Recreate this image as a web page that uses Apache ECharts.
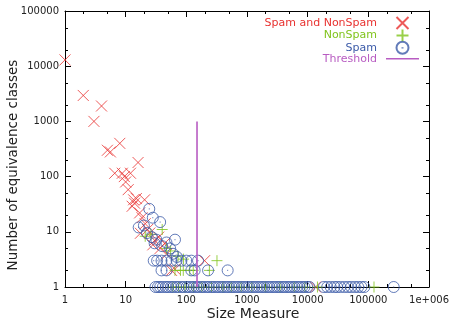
<!DOCTYPE html>
<html>
<head>
<meta charset="utf-8">
<script src="https://cdn.jsdelivr.net/npm/echarts@6/dist/echarts.min.js"></script>
<style>
html, body { margin: 0; padding: 0; background: #fff; }
#chart { width: 452px; height: 327px; }
</style>
</head>
<body>
<div id="chart"></div>
<script>
// data: [size measure, number of classes]
var spamAndNonSpam = [
	[1, 13000], [2, 2950], [3, 1000], [4, 1900], [5, 300], [5.6, 280], [8, 400],
	[6.6, 115], [8.8, 115], [12, 115], [9.5, 100], [10, 80], [11, 58], [16, 180],
	[13.5, 38], [15, 40], [20.5, 38], [12.8, 29], [14, 33], [17, 22], [18.6, 18],
	[21, 14], [17.5, 9.4], [23, 11], [25, 9.5], [28, 5.8], [30, 7], [35, 8],
	[37, 5], [44, 6.2], [48, 4], [57, 2], [65, 2.1], [200, 3], [13500, 1]
];
var nonSpam = [
	[21, 8.3], [26, 9], [40, 11], [47, 5], [55, 4.5], [73, 3.6], [90, 3.2],
	[65, 2], [80, 2], [89, 2], [114, 2], [130, 2], [240, 2], [320, 3],
	[60, 1], [75, 1], [95, 1], [130, 1], [180, 1], [260, 1], [400, 1], [550, 1],
	[800, 1], [1200, 1], [2000, 1], [3500, 1], [6000, 1], [9000, 1], [14500, 1], [124000, 1]
];
var spam = [
	[24.5, 26], [28, 18], [37, 15], [16.4, 12], [20, 13], [22.5, 9.5], [27, 8],
	[32, 7.2], [65, 7.2], [47, 6.4], [54, 5], [30, 6.2], [40, 5.5], [60, 4], [70, 3.5],
	[29, 3], [33, 3], [39, 3], [47, 3], [57, 3], [69, 3], [83, 3], [100, 3], [121, 3], [156, 3],
	[39, 2], [47, 2], [121, 2], [137, 2], [228, 2], [480, 2],
	[31, 1], [34, 1], [37, 1], [41, 1], [46, 1], [50, 1], [56, 1], [61, 1], [68, 1],
	[74, 1], [83, 1], [90, 1], [101, 1], [110, 1], [122, 1], [133, 1], [147, 1], [160, 1],
	[178, 1], [194, 1], [216, 1], [235, 1], [262, 1], [285, 1], [316, 1], [345, 1],
	[383, 1], [418, 1], [463, 1], [505, 1], [560, 1], [612, 1], [677, 1], [740, 1],
	[820, 1], [895, 1], [990, 1], [1085, 1], [1205, 1], [1315, 1], [1455, 1], [1595, 1],
	[1765, 1], [1925, 1], [2135, 1], [2335, 1], [2580, 1], [2820, 1], [3120, 1], [3410, 1],
	[3780, 1], [4130, 1], [4570, 1], [5000, 1], [5530, 1], [6050, 1], [6690, 1], [7320, 1],
	[8100, 1], [8850, 1], [9800, 1], [10700, 1],
	[18500, 1], [21000, 1], [24000, 1], [27500, 1], [30500, 1], [34500, 1], [40000, 1],
	[46000, 1], [52000, 1], [60000, 1], [68000, 1], [77000, 1], [86000, 1], [262000, 1]
];
var threshold = [[150, 1], [150, 1000]];

var minorTicksX = [2, 5, 20, 50, 200, 500, 2000, 5000, 20000, 50000, 200000, 500000];
var minorTicksY = [2, 5, 20, 50, 200, 500, 2000, 5000, 20000, 50000];

var redColor = '#e8312f';
var greenColor = '#80c41c';
var blueColor = '#3b5aa8';
var purpleColor = '#b85cc2';
var fontName = 'DejaVu Sans';

var crossSymbol = 'path://M0,0L10,10M0,10L10,0';
var plusSymbol = 'path://M5,0L5,10M0,5L10,5';
var circleSymbol = 'path://M0,5A5,5 0 1 1 10,5A5,5 0 1 1 0,5Z M5,4.5L5,5.5';
var lineIcon = 'path://M0,0L33,0L33,1.6L0,1.6Z';

function minorTickItem(isX) {
	return function (params, api) {
		var cs = params.coordSys;
		var style = { stroke: '#000', lineWidth: 1 };
		if (isX) {
			var x = Math.round(api.coord([api.value(0), 1])[0]) + 0.5;
			return { type: 'group', children: [
				{ type: 'line', shape: { x1: x, y1: cs.y + cs.height, x2: x, y2: cs.y + cs.height - 3 }, style: style },
				{ type: 'line', shape: { x1: x, y1: cs.y, x2: x, y2: cs.y + 3 }, style: style }
			] };
		}
		var y = Math.round(api.coord([1, api.value(1)])[1]) + 0.5;
		return { type: 'group', children: [
			{ type: 'line', shape: { x1: cs.x, y1: y, x2: cs.x + 3, y2: y }, style: style },
			{ type: 'line', shape: { x1: cs.x + cs.width, y1: y, x2: cs.x + cs.width - 3, y2: y }, style: style }
		] };
	};
}

var chart = echarts.init(document.getElementById('chart'), null, { renderer: 'canvas' });

var axisLine = { show: true, lineStyle: { color: '#000', width: 1 } };
var axisTick = { show: true, inside: true, length: 6, lineStyle: { color: '#000' } };

var option = {
	animation: false,
	backgroundColor: '#fff',
	grid: { left: 65, right: 18, top: 11, bottom: 40 },
	legend: {
		orient: 'vertical',
		right: 33,
		top: 16,
		padding: 0,
		align: 'right',
		itemWidth: 33,
		itemHeight: 12,
		itemGap: -1.6,
		selectedMode: false,
		textStyle: { fontFamily: fontName, fontSize: 11, lineHeight: 11, padding: [0, 4, 0, 0] },
		data: [
			{ name: 'Spam and NonSpam', textStyle: { color: redColor } },
			{ name: 'NonSpam', textStyle: { color: greenColor } },
			{ name: 'Spam', textStyle: { color: blueColor } },
			{ name: 'Threshold', icon: lineIcon, textStyle: { color: purpleColor } }
		]
	},
	xAxis: [{
		type: 'log', logBase: 10, min: 1, max: 1000000, splitNumber: 6,
		axisLine: axisLine, axisTick: axisTick, splitLine: { show: false },
		axisLabel: {
			fontFamily: fontName, fontSize: 10, color: '#222', margin: 8,
			formatter: function (v) { v = Math.round(v); return v >= 1000000 ? '1e+006' : String(v); }
		}
	}, {
		type: 'log', logBase: 10, min: 1, max: 1000000, splitNumber: 6, position: 'top',
		axisLine: axisLine, axisTick: axisTick, splitLine: { show: false }, axisLabel: { show: false }
	}],
	yAxis: [{
		type: 'log', logBase: 10, min: 1, max: 100000, splitNumber: 5,
		axisLine: axisLine, axisTick: axisTick, splitLine: { show: false },
		axisLabel: {
			fontFamily: fontName, fontSize: 10, color: '#222', margin: 6,
			formatter: function (v) { return String(Math.round(v)); }
		}
	}, {
		type: 'log', logBase: 10, min: 1, max: 100000, splitNumber: 5, position: 'right',
		axisLine: axisLine, axisTick: axisTick, splitLine: { show: false }, axisLabel: { show: false }
	}],
	graphic: [{
		type: 'text',
		x: 253, y: 314,
		style: { text: 'Size Measure', fontFamily: fontName, fontSize: 14, fill: '#222', align: 'center', verticalAlign: 'middle' }
	}, {
		type: 'text',
		x: 13, y: 165,
		rotation: Math.PI / 2,
		style: { text: 'Number of equivalence classes', fontFamily: fontName, fontSize: 13.5, fill: '#222', align: 'center', verticalAlign: 'middle' }
	}],
	series: [{
		name: 'Spam and NonSpam', type: 'scatter', data: spamAndNonSpam,
		symbol: crossSymbol, symbolSize: 11, symbolKeepAspect: true,
		itemStyle: { color: 'rgba(0,0,0,0)', borderColor: redColor, borderWidth: 1 }
	}, {
		name: 'NonSpam', type: 'scatter', data: nonSpam,
		symbol: plusSymbol, symbolSize: 11, symbolKeepAspect: true,
		itemStyle: { color: 'rgba(0,0,0,0)', borderColor: greenColor, borderWidth: 1 }
	}, {
		name: 'Spam', type: 'scatter', data: spam,
		symbol: circleSymbol, symbolSize: 11, symbolKeepAspect: true,
		itemStyle: { color: 'rgba(0,0,0,0)', borderColor: blueColor, borderWidth: 1 }
	}, {
		name: 'Threshold', type: 'line', data: threshold, symbol: 'none', symbolKeepAspect: true,
		lineStyle: { color: purpleColor, width: 1.6 }, itemStyle: { color: purpleColor }
	}, {
		type: 'custom', data: minorTicksX.map(function (v) { return [v, 1]; }),
		renderItem: minorTickItem(true), silent: true, clip: false
	}, {
		type: 'custom', data: minorTicksY.map(function (v) { return [1, v]; }),
		renderItem: minorTickItem(false), silent: true, clip: false
	}]
};

chart.setOption(option);
</script>
</body>
</html>
